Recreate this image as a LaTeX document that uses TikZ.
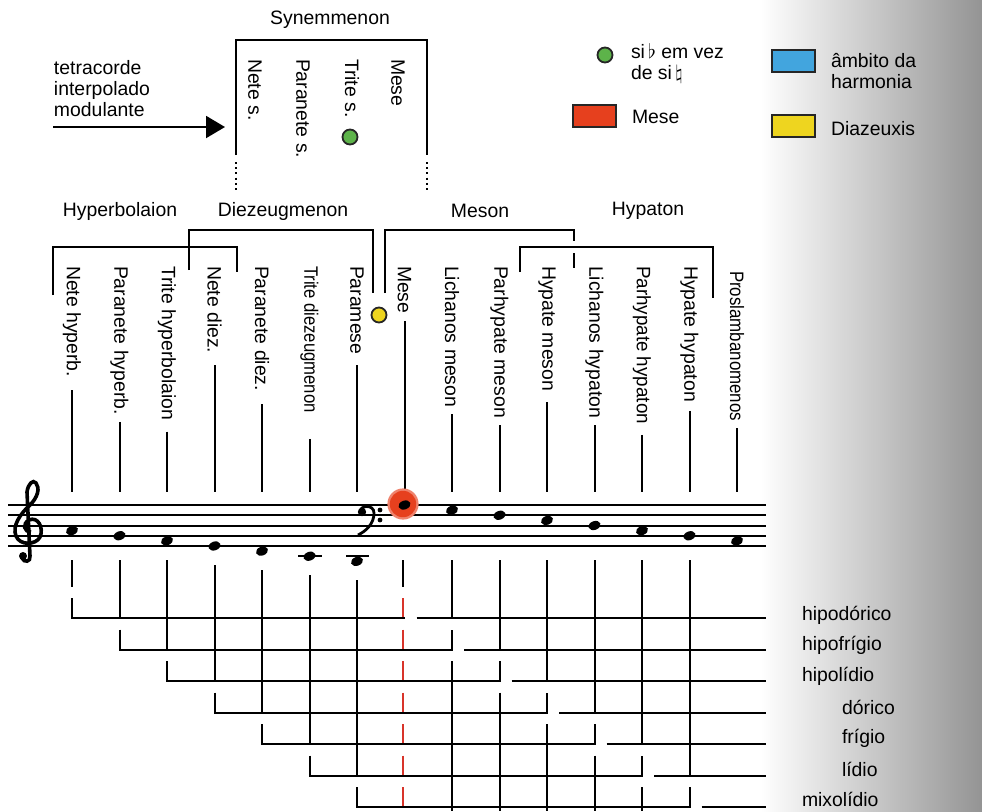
\documentclass[tikz,border=0pt]{standalone}
\usepackage{fontspec}
\setmainfont{Liberation Sans}
\usetikzlibrary{arrows.meta,shapes.geometric}

\definecolor{meseRed}{HTML}{E6401E}
\definecolor{ambitoBlue}{HTML}{42A5DE}
\definecolor{diazYellow}{HTML}{EED51F}
\definecolor{sibGreen}{HTML}{5DB34A}
\definecolor{dashRed}{HTML}{D8342A}

\tikzset{
  lbl/.style={rotate=-90, anchor=west, inner sep=0pt},
  dotmark/.style={circle, draw=black!85, line width=0.9pt, minimum size=7.5pt, inner sep=0pt},
  swatch/.style={draw=black!85, line width=0.9pt, minimum width=21.5pt, minimum height=11pt, inner sep=0pt},
  notehead/.style={ellipse, fill=black, minimum width=6.2pt, minimum height=4.4pt, inner sep=0pt, rotate=20},
  dotline/.style={line width=1pt, dash pattern=on 1pt off 1.6pt},
  meseline/.style={dashRed, line width=1.1pt, dash pattern=on 10pt off 5.75pt},
}

\begin{document}
\begin{tikzpicture}[x=0.5pt, y=-0.5pt, line width=1pt,
  every node/.style={font=\fontsize{9.7}{10.5}\selectfont}]
\useasboundingbox (0,0) rectangle (982,811);
\shade[left color=white, right color=black!42] (760,0) rectangle (982,811);

% synemmenon
\node (synname) at (330,20) {Synemmenon};
\draw (236,155) -- (236,40) -- (427,40) -- (427,155);
\draw[dotline] (236,162) -- (236,190);
\draw[dotline] (427,162) -- (427,190);
\node[lbl] (synnete) at (255,58) {Nete s.};
\node[lbl] (synparanete) at (303,58) {Paranete s.};
\node[lbl] (syntrite) at (352,58) {Trite s.};
\node[lbl] (synmese) at (398,58) {Mese};
\node[dotmark, fill=sibGreen] (sibflat) at (350,137) {};

\node[align=left, anchor=north west, inner sep=0pt] (tetra) at (53,59) {tetracorde\\interpolado\\modulante};
\coordinate (arrtail) at (53,127);
\coordinate (synin) at (225,127);
\draw[-{Triangle[length=9.5pt,width=11pt]}] (arrtail) -- (synin);

% legend
\node[dotmark, fill=sibGreen] (legdot) at (605,55) {};
\node[anchor=west, align=left, inner sep=0pt] (legsib) at (630,63) {si\,$\flat$ em vez\\de si\,$\natural$};
\node[swatch, fill=meseRed] (legred) at (594.5,116) {};
\node[anchor=west, inner sep=0pt] (legmese) at (631,117) {Mese};
\node[swatch, fill=ambitoBlue] (legblue) at (793.5,61) {};
\node[anchor=west, align=left, inner sep=0pt] (legambito) at (830,71) {âmbito da\\harmonia};
\node[swatch, fill=diazYellow] (legyellow) at (793.5,126) {};
\node[anchor=west, inner sep=0pt] (legdiaz) at (830,129) {Diazeuxis};

% tetrachords
\node (hyperbolaion) at (120,211) {Hyperbolaion};
\node (diezeugmenon) at (283,211) {Diezeugmenon};
\node (meson) at (480,211) {Meson};
\node (hypaton) at (648,211) {Hypaton};
\draw (53,295) -- (53,247) -- (237,247) -- (237,272);
\draw (189,270) -- (189,230) -- (373,230) -- (373,293);
\draw (385,293) -- (385,230) -- (574,230) -- (574,241);
\draw (574,253) -- (574,268);
\draw (520,272) -- (520,247) -- (713,247) -- (713,298);
\node[dotmark, fill=diazYellow] (diazeuxis) at (379,315) {};

% notes names
\foreach \i/\nm/\sc/\gp/\ty in {0/Nete hyperb./1/12/265, 1/Paranete hyperb./1/6/265,
    2/Trite hyperbolaion/1/10/265, 3/Nete diez./1/11/265, 4/Paranete diez./1/12/265,
    5/Trite diezeugmenon/0.86/25/265, 6/Paramese/1/10/265, 7/Mese/1/7/265,
    8/Lichanos meson/1/6/265, 9/Parhypate meson/1/6/265, 10/Hypate meson/1/10/265,
    11/Lichanos hypaton/1/6/265, 12/Parhypate hypaton/0.97/10/265,
    13/Hypate hypaton/1/8/265, 14/Proslambanomenos/0.87/6/270}{
  \pgfmathsetmacro\cx{72+47.5*\i}
  \node[lbl] (col\i) at (\cx,\ty) {\scalebox{\sc}[1]{\nm}};
  \draw (col\i.east) ++(0,\gp) -- (\cx,492);
}

% staff
\foreach \k in {0,...,4}
  \draw (8,{505+10.25*\k}) -- (766,{505+10.25*\k});
% treble clef
\draw[line width=1.8pt] (31,532) .. controls (24,532) and (22,524) .. (29,520)
  .. controls (38,516) and (44,528) .. (40,537)
  .. controls (36,545) and (20,546) .. (16,536)
  .. controls (12,526) and (20,514) .. (30,505)
  .. controls (38,497) and (40,488) .. (36,483)
  .. controls (33,479) and (28,484) .. (27,492)
  -- (30,556) .. controls (31,562) and (24,563) .. (22,558);
\fill (23,556) circle[radius=2pt];
% bass clef
\draw[line width=1.4pt] (360,512) .. controls (360,505) and (374,504) .. (374,513)
  .. controls (374,524) and (366,531) .. (358,535);
\fill (362,512) circle[radius=2.1pt];
\fill (380,510) circle[radius=1.2pt];
\fill (380,520) circle[radius=1.2pt];

% mese mark
\fill[meseRed!65] (403,504) circle[radius=7.8pt];
\fill[meseRed] (403,504) circle[radius=6.6pt];

% ledger lines
\draw (298,556.25) -- (322,556.25);
\draw (346,556.25) -- (369,556.25);

\foreach \i in {0,...,14}{
  \pgfmathsetmacro\nx{72+47.5*\i}
  \pgfmathsetmacro\ny{\i<7 ? 530.6+5.125*\i : 505+5.125*(\i-7)}
  \node[notehead] (n\i) at (\nx,\ny) {};
}

% lines below the staff
\foreach \j/\s in {0/560,1/560,2/560,3/565,4/570,5/575,6/580}{
  \pgfmathsetmacro\cx{72+47.5*\j}
  \draw (\cx,\s) -- (\cx,{618+31.5*(\j-1)});
}
\draw (403,560) -- (403,586.5);
\draw[meseline] (403,598) -- (403,811);
\foreach \j in {8,...,13}{
  \pgfmathsetmacro\cx{72+47.5*\j}
  \draw (\cx,560) -- (\cx,{618+31.5*(\j-8)});
  \ifnum\j<13
    \draw (\cx,{618+31.5*(\j-6)-20}) -- (\cx,811);
  \fi
}

% modes
\foreach \k/\mode/\mx in {0/hipodórico/801, 1/hipofrígio/801, 2/hipolídio/801,
    3/dórico/841, 4/frígio/841, 5/lídio/841, 6/mixolídio/801}{
  \pgfmathsetmacro\ry{618+31.5*\k}
  \pgfmathsetmacro\xa{72+47.5*\k}
  \pgfmathsetmacro\xb{72+47.5*(\k+7)}
  \ifnum\k=0
    \draw (\xa,\ry-20) -- (\xa,\ry) -- (\xb,\ry);
  \else
    \draw (\xa,\ry-20) -- (\xa,\ry) -- (\xb,\ry) -- (\xb,\ry-20);
  \fi
  \draw (\xb+12,\ry) -- (766,\ry);
  \node[anchor=west, inner sep=0pt] (mode\k) at (\mx,\ry-3-0.7*\k) {\mode};
}
\end{tikzpicture}
\end{document}
